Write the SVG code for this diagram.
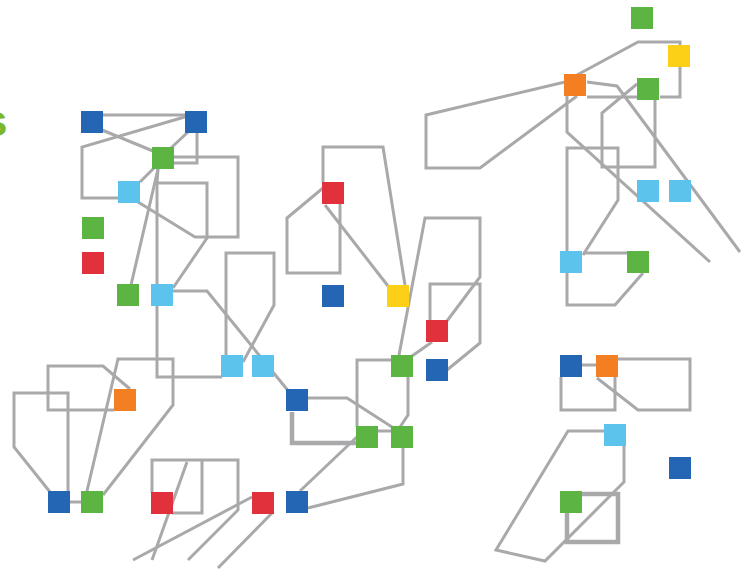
<svg xmlns="http://www.w3.org/2000/svg" width="743" height="573" viewBox="0 0 743 573">
<style>
.c{fill:none;stroke:#a9a9ab;stroke-width:3;stroke-linejoin:miter}
.t{stroke-width:4.5}
.n{stroke:none}
.b{fill:#2466b4}.g{fill:#5cb443}.l{fill:#5cc4ec}.r{fill:#e0313c}.o{fill:#f47e22}.y{fill:#fdd018}
</style>
<rect width="743" height="573" fill="#ffffff"/>
<text x="-17" y="136" font-family="Liberation Sans, Arial, sans-serif" font-size="44" font-weight="bold" fill="#79b72d">s</text>
<g id="connectors">
<path class="c" d="M103,115 L185,115"/>
<path class="c" d="M188,116 L82,147 L82,198 L118,198"/>
<path class="c" d="M102,130 L153,151"/>
<path class="c" d="M189,131 L171,148"/>
<path class="c" d="M197,133 L197,163 L173,163"/>
<path class="c" d="M173,157 L238,157 L238,237 L195,237 L138,202"/>
<path class="c" d="M154,168 L140,182"/>
<path class="c" d="M158,169 L131,285"/>
<path class="c" d="M158,169 L157,183 L157,377 L222,377"/>
<path class="c" d="M157,183 L207,183 L207,238 L173,288"/>
<path class="c" d="M173,291 L207,291 L290,393"/>
<path class="c" d="M226,356 L226,253 L274,253 L274,305 L243,362"/>
<path class="c" d="M308,398 L347,398 L392,427"/>
<path class="c t" d="M292,412 L292,443 L356,443"/>
<path class="c" d="M378,431 L391,431"/>
<path class="c" d="M392,360 L357,360 L357,427"/>
<path class="c" d="M408,377 L408,415 L400,427"/>
<path class="c" d="M399,355 L425,218 L480,218 L480,277 L447,321"/>
<path class="c" d="M447,370 L480,343 L480,284 L430,284 L430,321"/>
<path class="c" d="M432,342 L412,356"/>
<path class="c" d="M323,188 L287,218 L287,273 L340,273 L340,204"/>
<path class="c" d="M323,182 L323,147 L383,147 L405,285"/>
<path class="c" d="M325,205 L388,286"/>
<path class="c" d="M300,491 L360,434"/>
<path class="c" d="M308,508 L403,484 L403,448"/>
<path class="c" d="M152,493 L152,460 L238,460 L238,510 L188,560"/>
<path class="c" d="M202,460 L202,513 L172,513"/>
<path class="c" d="M187,462 L152,560"/>
<path class="c" d="M252,497 L133,560"/>
<path class="c" d="M272,513 L218,568"/>
<path class="c" d="M70,502 L81,502"/>
<path class="c" d="M50,492 L14,447 L14,393 L68,393 L68,491"/>
<path class="c" d="M87,491 L118,359 L173,359 L173,405 L103,495"/>
<path class="c" d="M114,410 L48,410 L48,366 L103,366 L130,389"/>
<path class="c" d="M577,75 L638,42 L680,42 L680,45"/>
<path class="c" d="M680,67 L680,97 L660,97"/>
<path class="c" d="M587,97 L637,97"/>
<path class="c" d="M565,82 L426,115 L426,168 L480,168 L577,96"/>
<path class="c" d="M587,82 L617,86 L740,252"/>
<path class="c" d="M567,96 L567,132 L710,262"/>
<path class="c" d="M637,84 L602,113 L602,167 L655,167 L655,100"/>
<path class="c" d="M567,252 L567,148 L618,148 L618,200 L583,255"/>
<path class="c" d="M583,253 L628,253"/>
<path class="c" d="M567,273 L567,305 L615,305 L643,273"/>
<path class="c" d="M582,365 L596,365"/>
<path class="c" d="M561,377 L561,410 L615,410 L615,377"/>
<path class="c" d="M618,359 L690,359 L690,410 L638,410 L597,378"/>
<path class="c" d="M604,431 L568,431 L496,550 L545,561 L624,482 L624,445"/>
<path class="c t" d="M582,494 L618,494 L618,542 L567,542 L567,513"/>
</g>
<g id="n1"><rect class="g" x="631" y="7" width="22" height="22"/></g>
<g id="n2"><rect class="y" x="668" y="45" width="22" height="22"/></g>
<g id="n3"><rect class="o" x="564" y="74" width="22" height="22"/></g>
<g id="n4"><rect class="g" x="637" y="78" width="22" height="22"/></g>
<g id="n5"><rect class="b" x="81" y="111" width="22" height="22"/></g>
<g id="n6"><rect class="b" x="185" y="111" width="22" height="22"/></g>
<g id="n7"><rect class="g" x="152" y="147" width="22" height="22"/></g>
<g id="n8"><rect class="l" x="118" y="181" width="22" height="22"/></g>
<g id="n9"><rect class="g" x="82" y="217" width="22" height="22"/></g>
<g id="n10"><rect class="r" x="82" y="252" width="22" height="22"/></g>
<g id="n11"><rect class="r" x="322" y="182" width="22" height="22"/></g>
<g id="n12"><rect class="l" x="637" y="180" width="22" height="22"/></g>
<g id="n13"><rect class="l" x="669" y="180" width="22" height="22"/></g>
<g id="n14"><rect class="l" x="560" y="251" width="22" height="22"/></g>
<g id="n15"><rect class="g" x="627" y="251" width="22" height="22"/></g>
<g id="n16"><rect class="g" x="117" y="284" width="22" height="22"/></g>
<g id="n17"><rect class="l" x="151" y="284" width="22" height="22"/></g>
<g id="n18"><rect class="b" x="322" y="285" width="22" height="22"/></g>
<g id="n19"><rect class="y" x="387" y="285" width="22" height="22"/></g>
<g id="n20"><rect class="r" x="426" y="320" width="22" height="22"/></g>
<g id="n21"><rect class="l" x="221" y="355" width="22" height="22"/></g>
<g id="n22"><rect class="l" x="252" y="355" width="22" height="22"/></g>
<g id="n23"><rect class="g" x="391" y="355" width="22" height="22"/></g>
<g id="n24"><rect class="b" x="426" y="359" width="22" height="22"/></g>
<g id="n25"><rect class="b" x="560" y="355" width="22" height="22"/></g>
<g id="n26"><rect class="o" x="596" y="355" width="22" height="22"/></g>
<g id="n27"><rect class="o" x="114" y="389" width="22" height="22"/></g>
<g id="n28"><rect class="b" x="286" y="389" width="22" height="22"/></g>
<g id="n29"><rect class="g" x="356" y="426" width="22" height="22"/></g>
<g id="n30"><rect class="g" x="391" y="426" width="22" height="22"/></g>
<g id="n31"><rect class="l" x="604" y="424" width="22" height="22"/></g>
<g id="n32"><rect class="b" x="669" y="457" width="22" height="22"/></g>
<g id="n33"><rect class="b" x="48" y="491" width="22" height="22"/></g>
<g id="n34"><rect class="g" x="81" y="491" width="22" height="22"/></g>
<g id="n35"><rect class="r" x="151" y="492" width="22" height="22"/></g>
<g id="n36"><rect class="r" x="252" y="492" width="22" height="22"/></g>
<g id="n37"><rect class="b" x="286" y="491" width="22" height="22"/></g>
<g id="n38"><rect class="g" x="560" y="491" width="22" height="22"/></g>
</svg>
